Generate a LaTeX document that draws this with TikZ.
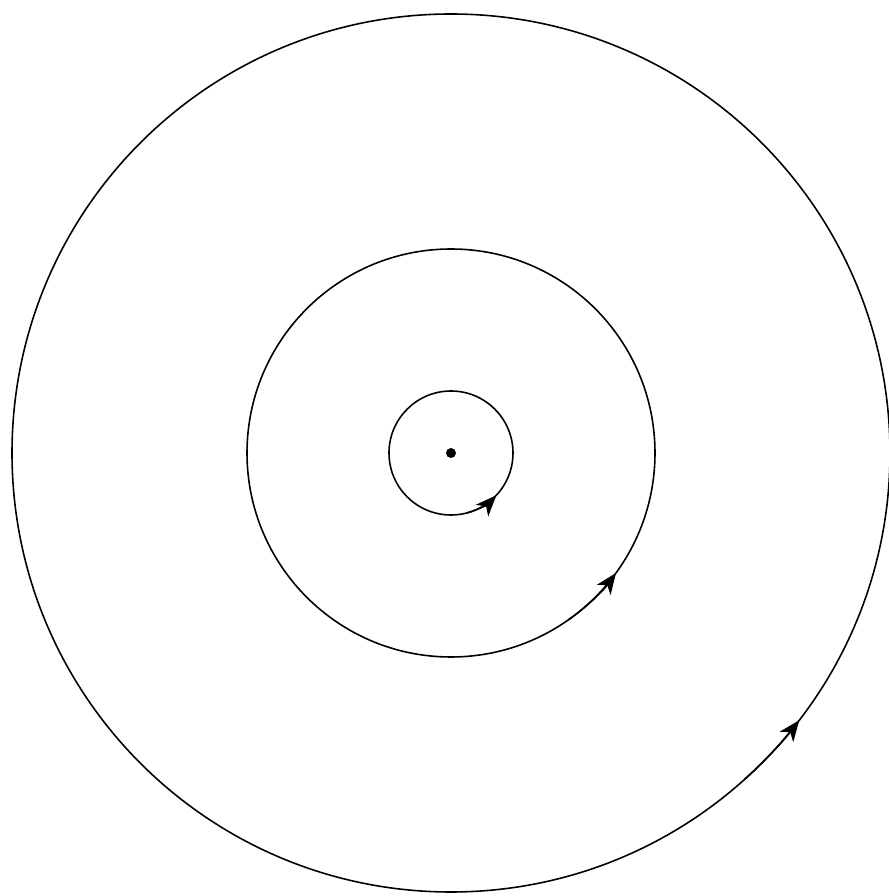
\documentclass[tikz,border=0pt]{standalone}
\usetikzlibrary{arrows.meta}

\begin{document}
\begin{tikzpicture}[
  orbit/.style={circle, draw=black, line width=0.9pt, inner sep=0pt},
  dot/.style={circle, fill=black, inner sep=0pt, minimum size=0.2cm},
  arr/.style={-{Stealth[length=0.42cm, width=0.34cm, inset=0.12cm]}, line width=0.9pt}
]
\useasboundingbox (0,0) rectangle (17.78,17.92);

% Centre and orbits
\node[dot] (centre) at (9.02,8.86) {};
\node[orbit, minimum size=2.48cm]  (inner)  at (centre) {};
\node[orbit, minimum size=8.16cm]  (middle) at (centre) {};
\node[orbit, minimum size=17.56cm] (outer)  at (centre) {};

% Direction of motion
\draw[arr] (centre) ++(-75:1.24) arc (-75:-43:1.24);
\draw[arr] (centre) ++(-55:4.08) arc (-55:-36:4.08);
\draw[arr] (centre) ++(-48:8.78) arc (-48:-37.5:8.78);
\end{tikzpicture}
\end{document}
